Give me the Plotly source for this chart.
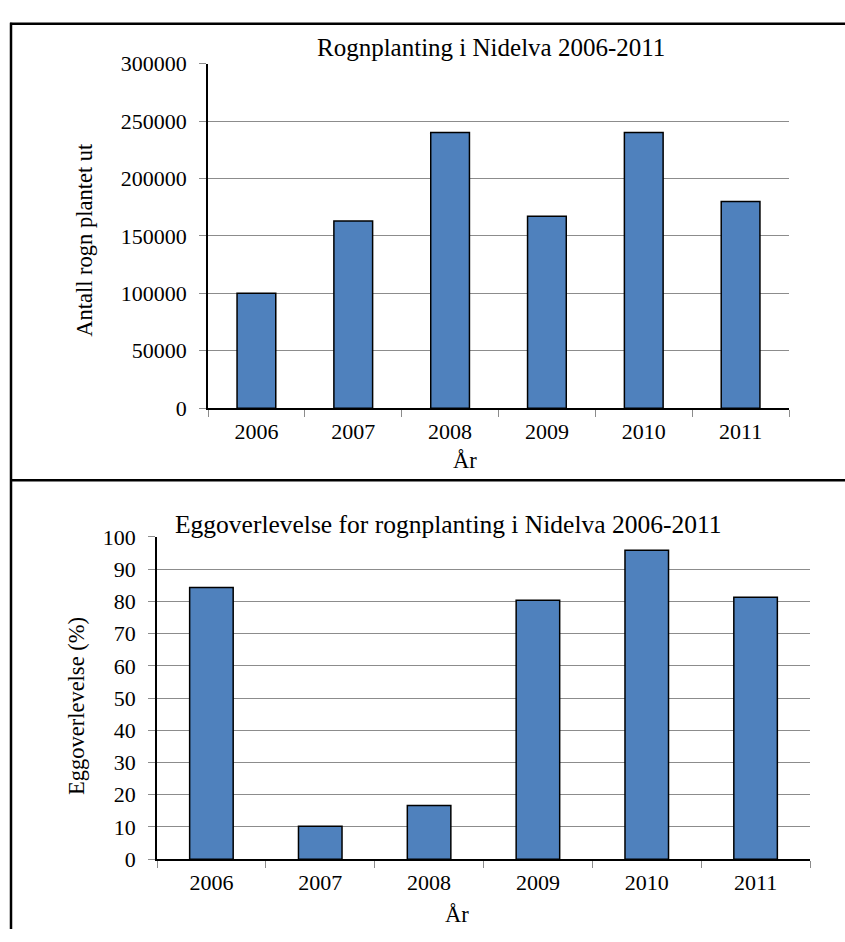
import plotly.graph_objects as go

# Data
years = ["2006", "2007", "2008", "2009", "2010", "2011"]
rogn_planted = [100000, 163000, 240000, 167000, 240000, 180000]
egg_survival = [84.3, 10.2, 16.7, 80.4, 95.9, 81.3]

W, H = 845, 942
FONT = "Liberation Serif, Times New Roman, serif"
BAR_COLOR = "#4F81BD"
GRID = "#8c8c8c"


def px(x):
    return x / W


def py(y):
    return 1 - y / H


fig = go.Figure()

fig.add_trace(go.Bar(
    x=years, y=rogn_planted, xaxis="x", yaxis="y",
    marker=dict(color=BAR_COLOR, line=dict(color="black", width=1.5)),
    showlegend=False,
))
fig.add_trace(go.Bar(
    x=years, y=egg_survival, xaxis="x2", yaxis="y2",
    marker=dict(color=BAR_COLOR, line=dict(color="black", width=1.5)),
    showlegend=False,
))

xaxis_common = dict(
    type="category", showline=True, linecolor="black", linewidth=1.5,
    ticks="outside", tickson="boundaries", ticklen=7, tickcolor=GRID,
    tickfont=dict(family=FONT, size=22, color="black"),
    ticklabelstandoff=3,
    showgrid=False, zeroline=False, fixedrange=True,
)
yaxis_common = dict(
    showline=True, linecolor="black", linewidth=1.5,
    ticks="outside", ticklen=7, tickcolor=GRID,
    tickfont=dict(family=FONT, size=22, color="black"),
    ticklabelstandoff=8,
    showgrid=True, gridcolor=GRID, gridwidth=1,
    zeroline=False, fixedrange=True,
)

fig.update_layout(
    width=W, height=H,
    margin=dict(l=0, r=0, t=0, b=0),
    paper_bgcolor="white", plot_bgcolor="white",
    bargap=0.6,
    xaxis=dict(xaxis_common, domain=[px(208), px(789)], anchor="y"),
    yaxis=dict(yaxis_common, domain=[py(407), py(53)], anchor="x",
               range=[0, 300000], dtick=50000, tickformat="d"),
    xaxis2=dict(xaxis_common, domain=[px(157), px(810)], anchor="y2"),
    yaxis2=dict(yaxis_common, domain=[py(870.3), py(539.3)], anchor="x2",
                range=[0, 100], dtick=10),
)

# Panel frame lines
frame = dict(type="line", xref="paper", yref="paper",
             line=dict(color="black", width=2.5))
fig.add_shape(frame, x0=px(10), x1=px(845), y0=py(12), y1=py(12))
fig.add_shape(frame, x0=px(11), x1=px(11), y0=py(11), y1=py(942))
fig.add_shape(frame, x0=px(10), x1=px(845), y0=py(481), y1=py(481))

# Titles and axis labels
def label(text, x, y, size, angle=0):
    fig.add_annotation(
        text=text, x=px(x), y=py(y), xref="paper", yref="paper",
        xanchor="center", yanchor="middle", showarrow=False,
        textangle=angle, font=dict(family=FONT, size=size, color="black"),
    )

label("Rognplanting i Nidelva 2006-2011", 491, 36, 25)
label("Antall rogn plantet ut", 85, 234, 22.5, -90)
label("År", 465, 461, 22.5)

label("Eggoverlevelse for rognplanting i Nidelva 2006-2011", 447.5, 526, 25.5)
label("Eggoverlevelse (%)", 76, 713, 22.5, -90)
label("År", 457, 927, 22.5)

fig.write_html("out.html")
